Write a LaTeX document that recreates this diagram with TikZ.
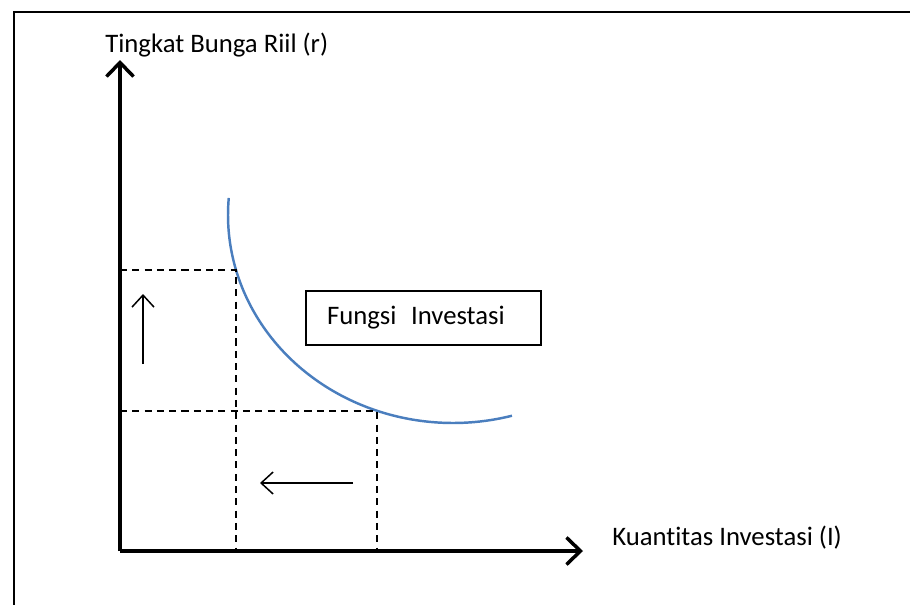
\documentclass[tikz,border=0pt]{standalone}
\usepackage{fontspec}
\setmainfont{Carlito}[Ligatures=NoCommon]
\usetikzlibrary{arrows.meta}

\begin{document}
\begin{tikzpicture}[x=0.02cm,y=-0.02cm,
    axis/.style={line width=2pt,-{Straight Barb[length=2.8mm,width=5.4mm,line width=2pt]}},
    shift arrow/.style={line width=0.85pt,-{Straight Barb[length=2.4mm,width=4.4mm,line width=0.85pt]}},
    guide/.style={line width=0.7pt,dash pattern=on 4pt off 3pt},
    label/.style={font=\fontsize{15.2}{18}\selectfont,inner sep=0pt}]
  \useasboundingbox (0,0) rectangle (910,605);
  \draw[line width=1.1pt] (14,615) -- (14,12) -- (920,12);

  % axes
  \coordinate (o) at (120,551);
  \coordinate (ytip) at (120,60);
  \coordinate (xtip) at (583,551);
  \draw[axis] (o) -- (ytip);
  \draw[axis] (o) -- (xtip);
  \node[label,anchor=base west] (ylab) at (105,52) {Tingkat Bunga Riil (r)};
  \node[label,anchor=base west] (xlab) at (612,545) {Kuantitas Investasi (I)};

  % investment curve
  \coordinate (c) at (453,215);
  \draw[color={rgb,255:red,74;green,126;blue,190},line width=1.4pt]
    (c) ++(184.7:225 and 208) arc[start angle=184.7,end angle=74.8,x radius=225,y radius=208];

  % guide lines
  \coordinate (r1) at (120,270);
  \coordinate (p1) at (236,270);
  \coordinate (i1) at (236,551);
  \coordinate (r2) at (120,411);
  \coordinate (p2) at (377,411);
  \coordinate (i2) at (377,551);
  \draw[guide] (r1) -- (p1) -- (i1);
  \draw[guide] (r2) -- (p2) -- (i2);

  % shift arrows
  \coordinate (ua) at (143,364);
  \coordinate (ub) at (143,294);
  \coordinate (la) at (353,483);
  \coordinate (lb) at (260,483);
  \draw[shift arrow] (ua) -- (ub);
  \draw[shift arrow] (la) -- (lb);

  \node[draw,line width=0.6pt,label,minimum width=4.7cm,minimum height=1.08cm,
        text width=3.86cm,inner xsep=0.42cm,align=left] (fungsi) at (423.5,318) {Fungsi\hspace{0.55em}Investasi};
\end{tikzpicture}
\end{document}
